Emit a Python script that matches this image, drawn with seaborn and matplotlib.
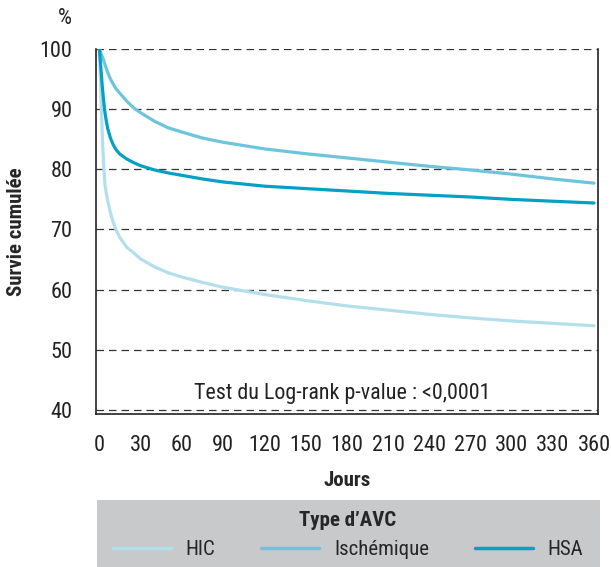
import pandas as pd
import matplotlib.pyplot as plt
import seaborn as sns
from matplotlib.patches import Rectangle

# Survival curves
jours = [0, 1, 2, 3, 4, 5, 6, 8, 10, 12, 15, 20, 25, 30, 40, 50, 60, 75, 90,
         120, 150, 180, 210, 240, 270, 300, 330, 360]

hic = [100, 93, 86, 81, 77.5, 76, 74.8, 72.8, 71.2, 70.0, 68.6, 67.0, 66.1, 65.1,
       63.8, 62.8, 62.1, 61.2, 60.4, 59.2, 58.2, 57.3, 56.6, 55.9, 55.3, 54.8, 54.4, 54.0]

ischemique = [100, 99.3, 98.8, 98.2, 97.4, 96.8, 96.1, 95.0, 94.2, 93.4, 92.6, 91.3,
              90.2, 89.4, 88.0, 86.9, 86.2, 85.2, 84.5, 83.4, 82.6, 81.9, 81.2, 80.5,
              79.9, 79.2, 78.4, 77.7]

hsa = [100, 97, 94, 91.5, 89.5, 88, 86.8, 85.2, 84.1, 83.3, 82.5, 81.7, 81.1, 80.6,
       79.9, 79.4, 79.0, 78.4, 77.9, 77.2, 76.8, 76.4, 76, 75.7, 75.4, 75.0, 74.7, 74.4]

types = ["HIC", "Ischémique", "HSA"]
colors = ["#b3dfec", "#6cc5dd", "#05a0c5"]

x_ticks = list(range(0, 361, 30))
y_ticks = list(range(40, 101, 10))

df = pd.concat([
    pd.DataFrame({"Jours": jours, "Survie": s, "Type": t})
    for s, t in zip([hic, ischemique, hsa], types)
])

sns.set_style("white")
plt.rcParams["font.family"] = ["Roboto Condensed", "Archivo Narrow", "DejaVu Sans"]

fig = plt.figure(figsize=(6.11, 5.67), dpi=100)
ax = fig.add_axes([96 / 611, 1 - 414 / 567, 502 / 611, 365 / 567])

sns.lineplot(
    data=df,
    x="Jours",
    y="Survie",
    hue="Type",
    hue_order=types,
    palette=colors,
    linewidth=2.3,
    ax=ax
)

ax.set_xlim(-2.5, 362.9)
ax.set_ylim(39.33, 100)
ax.set_xticks(x_ticks)
ax.set_yticks(y_ticks)

for y in y_ticks:
    ax.axhline(y, color="#333333", linestyle=(0, (6, 4)), linewidth=0.9, zorder=0)

for side in ["left", "right", "bottom"]:
    ax.spines[side].set_color("#222222")
    ax.spines[side].set_linewidth(1.2)
ax.spines["top"].set_visible(False)

ax.tick_params(axis="both", direction="out", length=6, width=1,
               color="#333333", labelsize=16, labelcolor="#222222")
ax.tick_params(axis="x", pad=9)
ax.tick_params(axis="y", pad=11)

ax.set_xlabel("Jours", fontsize=15, fontweight="bold", labelpad=11)
ax.set_ylabel("Survie cumulée", fontsize=15, fontweight="bold", labelpad=10)

ax.text(-25, 105, "%", fontsize=16, ha="center", va="center", color="#222222")
ax.text(176.5, 42.7, "Test du Log-rank p-value : <0,0001", fontsize=15.8,
        ha="center", va="center", color="#222222")

handles, labels = ax.get_legend_handles_labels()
ax.get_legend().remove()

# grey band behind the legend
fig.patches.append(Rectangle((97 / 611, 0), 503 / 611, 67 / 567,
                             transform=fig.transFigure, facecolor="#c8c9cb",
                             edgecolor="none", zorder=0))

leg = fig.legend(
    handles,
    labels,
    loc="center",
    bbox_to_anchor=(348 / 611, 1 - 535 / 567),
    ncol=3,
    title="Type d\u2019AVC",
    title_fontproperties={"weight": "bold", "size": 15},
    fontsize=15,
    frameon=False,
    handlelength=2.8,
    handletextpad=0.7,
    columnspacing=2.2,
    borderpad=0,
)
for line in leg.get_lines():
    line.set_linewidth(2.5)

fig.savefig("out.png", dpi=100)
